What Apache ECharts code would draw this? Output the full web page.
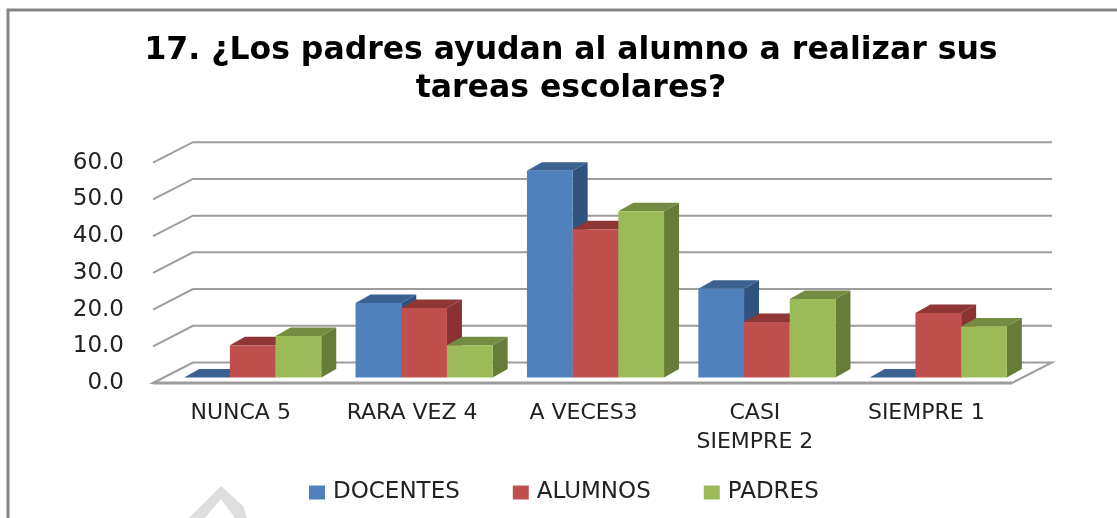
<!DOCTYPE html>
<html><head><meta charset="utf-8">
<style>html,body{margin:0;padding:0;background:#fff}#c{width:1117px;height:518px}</style>
<script src="https://cdn.jsdelivr.net/npm/echarts@6/dist/echarts.min.js"></script>
</head><body><div id="c"></div>
<script>
const categories = ['NUNCA 5','RARA VEZ 4','A VECES3','CASI\nSIEMPRE 2','SIEMPRE 1'];
const docentes = [0, 20.3, 56.3, 24.2, 0];
const alumnos = [8.8, 18.9, 40.4, 15.1, 17.6];
const padres = [11.3, 8.8, 45.3, 21.4, 13.9];
const ticks = [0,10,20,30,40,50,60];
const titleText = '17. ¿Los padres ayudan al alumno a realizar sus\ntareas escolares?';

const FONT = '"DejaVu Sans"';
const DX = 40, DY = 20.5;      // depth of the floor
const BX = 15, BY = 8.5;       // depth of a bar
const SHIFT = 12, LIFT = 5.5;  // bars stand in the middle of the floor
const BARW = 45.7;
const GRID = '#9d9d9d';

function poly(points, fill){
  return {type:'polygon', shape:{points}, style:{fill, stroke:null}};
}
function barSeries(name, data, index, front, top, side){
  return {
    name, type:'custom', coordinateSystem:'cartesian2d', z:5+index,
    itemStyle:{color:front},
    data: data.map((v,i)=>[i,v]),
    encode:{x:0,y:1},
    renderItem(params, api){
      const c = api.coord([api.value(0), api.value(1)]);
      const b = api.coord([api.value(0), 0]);
      const l = c[0] + SHIFT + (index-1.5)*BARW;
      const r = l + BARW;
      const t = c[1] - LIFT, bt = b[1] - LIFT;
      return {type:'group', children:[
        poly([[r,t],[r+BX,t-BY],[r+BX,bt-BY],[r,bt]], side),
        poly([[l,t],[l+BX,t-BY],[r+BX,t-BY],[r,t]], top),
        {type:'rect', shape:{x:l,y:t,width:BARW,height:bt-t}, style:{fill:front}}
      ]};
    }
  };
}
const wall = {
  type:'custom', coordinateSystem:'cartesian2d', z:1, silent:true,
  data: ticks.map(t=>[0,t]), encode:{y:1},
  renderItem(params, api){
    const v = api.value(1);
    const size = api.size([1,0]);
    const p = api.coord([0, v]);
    const x0 = p[0] - size[0]/2, x1 = x0 + size[0]*5, y = p[1];
    if (v === 0) {
      return {type:'group', children:[
        {type:'polygon', shape:{points:[[x0-2,y],[x0-2+DX,y-DY],[x1+DX,y-DY],[x1,y]]},
          style:{stroke:GRID, lineWidth:2, fill:'#fff'}},
        {type:'line', shape:{x1:x0-2,y1:y,x2:x1,y2:y}, style:{stroke:GRID, lineWidth:3}}
      ]};
    }
    return {type:'polyline', shape:{points:[[x0-2,y],[x0-2+DX,y-DY],[x1+DX,y-DY]]},
      style:{stroke:GRID, lineWidth:2, fill:'none'}};
  }
};
const chart = echarts.init(document.getElementById('c'), null, {renderer:'canvas'});
chart.setOption({
  animation:false,
  backgroundColor:'#fff',
  title:{text:titleText, left:566, top:27, textAlign:'center',
    textStyle:{fontFamily:FONT, fontWeight:'bold', fontSize:31.5, lineHeight:38, color:'#000'}},
  legend:{left:309, top:481, padding:0, itemWidth:16, itemHeight:14, itemGap:53, icon:'rect',
    data:['DOCENTES','ALUMNOS','PADRES'],
    textStyle:{fontFamily:FONT, fontSize:23, color:'#222', padding:[0,0,0,3]}},
  grid:{left:155, width:857, top:162.7, height:220.3},
  xAxis:{type:'category', data:categories, boundaryGap:true,
    axisLine:{show:false}, axisTick:{show:false}, splitLine:{show:false},
    axisLabel:{fontFamily:FONT, fontSize:22, color:'#222', lineHeight:29, margin:16, interval:0, verticalAlign:'top'}},
  yAxis:{type:'value', min:0, max:60, interval:10,
    axisLine:{show:false}, axisTick:{show:false}, splitLine:{show:false},
    axisLabel:{fontFamily:FONT, fontSize:23, color:'#222', margin:31, padding:[4,0,0,0], formatter:v=>v.toFixed(1)}},
  graphic:[
    {type:'polyline', silent:true, shape:{points:[[8,518],[8,10],[1117,10]]}, style:{stroke:'#868686', lineWidth:3, fill:'none'}},
    {type:'polygon', silent:true, z:0, shape:{points:[[189,518],[221,486],[243,506],[247,518],[235,518],[221,499],[205,518]]}, style:{fill:'#dedede'}}
  ],
  series:[
    wall,
    barSeries('DOCENTES', docentes, 0, '#4F81BD', '#3B6290', '#30527E'),
    barSeries('ALUMNOS', alumnos, 1, '#C0504D', '#8E3735', '#8A3230'),
    barSeries('PADRES', padres, 2, '#9BBB59', '#748C42', '#667C38')
  ]
});
</script></body></html>
